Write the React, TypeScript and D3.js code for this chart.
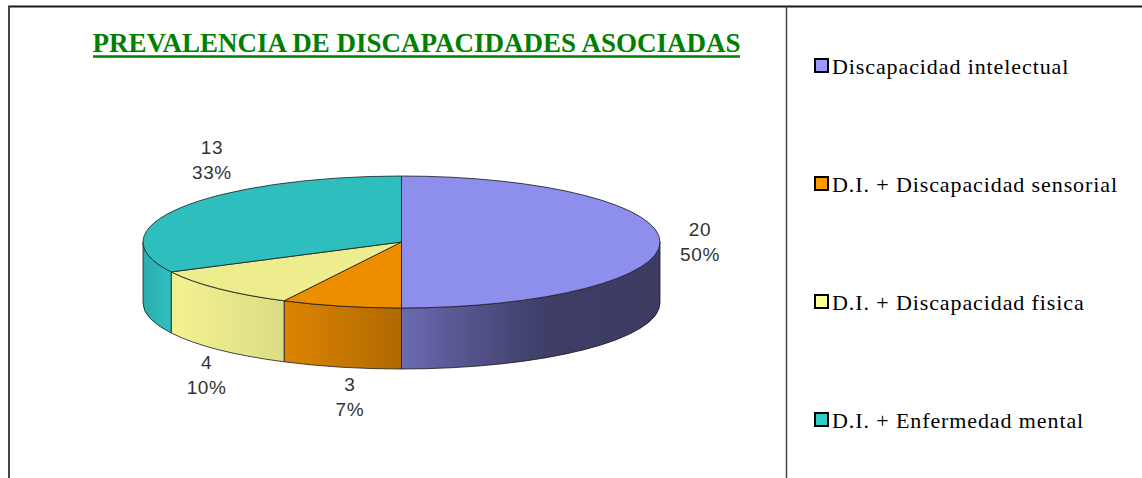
import React from "react";
import * as d3 from "d3";

const categories = [
  "Discapacidad intelectual",
  "D.I. + Discapacidad sensorial",
  "D.I. + Discapacidad fisica",
  "D.I. + Enfermedad mental",
];
const values = [20, 3, 4, 13];
const percentLabels = ["50%", "7%", "10%", "33%"];
const baseColors = ["#9999FF", "#FF9900", "#FFFF99", "#33CCCC"];
const title = "PREVALENCIA DE DISCAPACIDADES ASOCIADAS";

const W = 1142;
const H = 478;
const cx = 401.5;
const cy = 242;
const rx = 258.5;
const ry = 66;
const depth = 61;

function pt(a: number, dy = 0): [number, number] {
  return [cx + rx * Math.sin(a), cy - ry * Math.cos(a) + dy];
}
function f(p: [number, number]) {
  return `${p[0].toFixed(2)},${p[1].toFixed(2)}`;
}
function scaleColor(c: string, k: number) {
  const r = d3.rgb(c);
  return d3.rgb(r.r * k, r.g * k, r.b * k).formatHex();
}

// brightness of the side wall as function of screen x (light from the left)
const shade = d3
  .scaleLinear<number>()
  .domain([cx - rx, cx - rx * 0.88, cx - rx * 0.45, cx, cx + rx * 0.55, cx + rx])
  .range([0.85, 0.95, 0.86, 0.69, 0.4, 0.39])
  .clamp(true);

// label placement: horizontal position from the slice mid-angle (with a perspective term),
// vertical position just outside the pie outline at that x
const labelRx = 275;
const labelCx = 425;
const labelPersp = -48;
const lineGap = 25;
const capH = 13;

function labelPos(mid: number) {
  const s = Math.sin(mid);
  const c = Math.cos(mid);
  const x = labelCx + labelRx * s + labelPersp * s * c;
  const u = (x - cx) / rx;
  let top: number;
  if (Math.abs(u) >= 1) {
    const yc = cy - ry * c;
    top = yc - (capH + lineGap) / 2;
  } else {
    const h = ry * Math.sqrt(1 - u * u);
    if (c < 0) top = cy + h + depth + 10;
    else top = cy - h - 18 - (capH + lineGap);
  }
  return { x, y1: top + capH, y2: top + capH + lineGap };
}

export default function App() {
  const pie = d3.pie<number>().sort(null).startAngle(0).endAngle(2 * Math.PI);
  const arcs = pie(values);

  const tops = arcs.map((a, i) => {
    const mid = (a.startAngle + a.endAngle) / 2;
    const d = `M${f([cx, cy])}L${f(pt(a.startAngle))}A${rx},${ry} 0 0 1 ${f(pt(mid))}A${rx},${ry} 0 0 1 ${f(
      pt(a.endAngle)
    )}Z`;
    return { d, fill: scaleColor(baseColors[i], 0.93) };
  });

  const sides = arcs
    .map((a, i) => {
      const b0 = Math.max(a.startAngle, Math.PI / 2);
      const b1 = Math.min(a.endAngle, (3 * Math.PI) / 2);
      if (b1 <= b0) return null;
      const d = `M${f(pt(b0))}A${rx},${ry} 0 0 1 ${f(pt(b1))}L${f(pt(b1, depth))}A${rx},${ry} 0 0 0 ${f(
        pt(b0, depth)
      )}Z`;
      const xs = [pt(b0)[0], pt(b1)[0]];
      const x1 = Math.min(...xs);
      const x2 = Math.max(...xs);
      const stops = d3.range(0, 1.0001, 0.1).map((t) => ({
        t,
        c: scaleColor(baseColors[i], shade(x1 + (x2 - x1) * t)),
      }));
      return { d, id: `side${i}`, x1, x2, stops };
    })
    .filter(Boolean) as any[];

  const labels = arcs.map((a, i) => {
    const mid = (a.startAngle + a.endAngle) / 2;
    return { ...labelPos(mid), v: String(values[i]), p: percentLabels[i] };
  });

  const legendY = d3.scalePoint<number>().domain(d3.range(categories.length)).range([66, 420]);

  return (
    <svg
      width={W}
      height={H}
      viewBox={`0 0 ${W} ${H}`}
      style={{ position: "absolute", left: 0, top: 0, display: "block", background: "#fff" }}
    >
      <defs>
        {sides.map((s) => (
          <linearGradient key={s.id} id={s.id} gradientUnits="userSpaceOnUse" x1={s.x1} x2={s.x2} y1={0} y2={0}>
            {s.stops.map((st: any, j: number) => (
              <stop key={j} offset={st.t} stopColor={st.c} />
            ))}
          </linearGradient>
        ))}
      </defs>
      <rect x={0} y={0} width={W} height={H} fill="#fff" />
      {/* frame */}
      <line x1={8} x2={W} y1={6.5} y2={6.5} stroke="#1a1a1a" strokeWidth={2} />
      <line x1={9} x2={9} y1={6} y2={H} stroke="#444" strokeWidth={2} />
      <line x1={786.5} x2={786.5} y1={6} y2={H} stroke="#444" strokeWidth={1.5} />

      {/* title */}
      <text
        x={416.5}
        y={52}
        textAnchor="middle"
        fontFamily="'Liberation Serif', 'Times New Roman', serif"
        fontWeight="bold"
        fontSize={27}
        fill="#008000"
      >
        {title}
      </text>
      <line x1={93} x2={740} y1={56.5} y2={56.5} stroke="#008000" strokeWidth={2.5} />

      {/* pie sides */}
      {sides.map((s) => (
        <path key={s.id} d={s.d} fill={`url(#${s.id})`} stroke="#1a1a1a" strokeWidth={0.8} strokeLinejoin="round" />
      ))}
      {/* pie tops */}
      {tops.map((t, i) => (
        <path key={i} d={t.d} fill={t.fill} stroke="#1a1a1a" strokeWidth={0.8} strokeLinejoin="round" />
      ))}

      {/* data labels */}
      {labels.map((l, i) => (
        <text
          key={i}
          textAnchor="middle"
          fontFamily="'Liberation Sans', Arial, sans-serif"
          fontSize={19}
          letterSpacing={0.6}
          fill="#333"
        >
          <tspan x={l.x} y={l.y1}>
            {l.v}
          </tspan>
          <tspan x={l.x} y={l.y2}>
            {l.p}
          </tspan>
        </text>
      ))}

      {/* legend */}
      {categories.map((c, i) => {
        const y = legendY(i) as number;
        return (
          <g key={c}>
            <rect x={815} y={y - 7} width={13} height={13} fill={baseColors[i]} stroke="#000" strokeWidth={2} />
            <text
              x={832}
              y={y + 8}
              fontFamily="'Liberation Serif', 'Times New Roman', serif"
              fontSize={22}
              letterSpacing={0.9}
              fill="#000"
            >
              {c}
            </text>
          </g>
        );
      })}
    </svg>
  );
}
